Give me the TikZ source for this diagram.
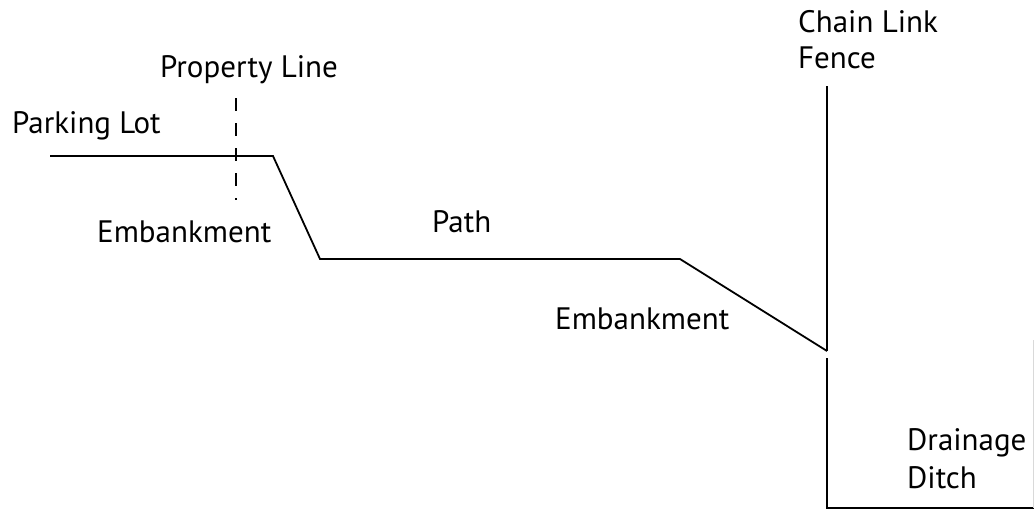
\documentclass[tikz,border=0pt]{standalone}
\usepackage{fontspec}
\setmainfont{PT Sans}
\usetikzlibrary{positioning}

\begin{document}
\begin{tikzpicture}[x=1pt, y=-1pt, every node/.style={font=\fontsize{31}{35}\selectfont, inner sep=0pt, anchor=base west}]
        \useasboundingbox (0,0) rectangle (1034,512);

        % Ground profile points
        \coordinate (lotstart) at (50,156);
        \coordinate (lotend) at (273,156);
        \coordinate (pathstart) at (320,259);
        \coordinate (pathend) at (680,259);
        \coordinate (slopefoot) at (827,351);
        \coordinate (fencetop) at (827,86);
        \coordinate (ditchtop) at (827,358);
        \coordinate (ditchcorner) at (827,508);
        \coordinate (ditchend) at (1034,508);
        \coordinate (propertytop) at (236,98);
        \coordinate (propertybottom) at (236,200);

        % Labels
        \node (propertylabel) at (160,77) {Property Line};
        \node (parkinglabel) at (12,133) {Parking Lot};
        \node (embankleft) at (97,242) {Embankment};
        \node (pathlabel) at (432,232) {Path};
        \node (embankright) at (555,329) {Embankment};
        \node (fencelabel) at (798,32) {Chain Link};
        \node (fencelabelb) at (798,68) {Fence};
        \node (ditchlabel) at (907,450) {Drainage};
        \node (ditchlabelb) at (907,488) {Ditch};

        % Ground line
        \draw [line width=1.8pt, line join=miter] (lotstart) -- (lotend) -- (pathstart) -- (pathend) -- (slopefoot);

        % Property line
        \draw [line width=1.8pt, dash pattern=on 13pt off 12pt] (propertytop) -- (propertybottom);

        % Fence and ditch
        \draw [line width=1.8pt] (fencetop) -- (slopefoot);
        \draw [line width=1.8pt] (ditchtop) -- (ditchcorner) -- (ditchend);
        \draw [line width=0.8pt, draw=gray!30] (1033,340) -- (1033,508);

    \end{tikzpicture}
\end{document}
